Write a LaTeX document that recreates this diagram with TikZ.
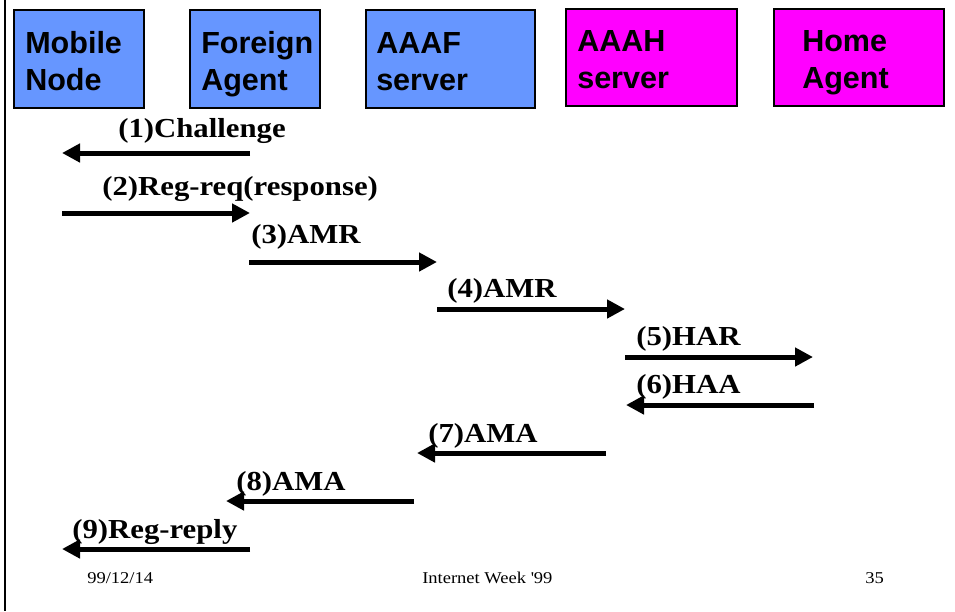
\documentclass[tikz,border=0pt]{standalone}
\usepackage{fontspec}
\usetikzlibrary{arrows.meta}
\setmainfont{Liberation Serif}
\newfontfamily\boxfont{Liberation Sans}
\newfontfamily\msgfont{Liberation Serif}[FakeStretch=1.12]
\definecolor{foreignblue}{RGB}{102,150,255}
\definecolor{homemagenta}{RGB}{255,0,255}
\tikzset{
  agentbox/.style={draw=black, line width=1.5pt, rectangle, anchor=north west,
    inner sep=0pt, minimum height=73.5pt},
  agentname/.style={anchor=base west, inner sep=0pt, align=left,
    font=\boxfont\bfseries\fontsize{22.9pt}{27.75pt}\selectfont},
  msgarrow/.style={line width=3.75pt, -{Triangle[length=13.5pt, width=13.5pt]}},
  msglabel/.style={anchor=base west, inner sep=0pt,
    font=\msgfont\bfseries\fontsize{20.6pt}{24pt}\selectfont},
  footer/.style={anchor=base west, inner sep=0pt,
    font=\msgfont\fontsize{12.4pt}{14pt}\selectfont}
}
\begin{document}
\begin{tikzpicture}[x=0.75pt, y=-0.75pt]
  \useasboundingbox (0,0) rectangle (955,611);
  % page edge on the left
  \draw[line width=1.5pt] (4.5,0) -- (4.5,611);

  % entities
  \node[agentbox, fill=foreignblue, minimum width=97.5pt]  (mn)   at (13,9)  {};
  \node[agentbox, fill=foreignblue, minimum width=97.5pt]  (fa)   at (189,9) {};
  \node[agentbox, fill=foreignblue, minimum width=126.75pt](aaaf) at (365,9) {};
  \node[agentbox, fill=homemagenta, minimum width=128.25pt, minimum height=72.75pt](aaah) at (565,8) {};
  \node[agentbox, fill=homemagenta, minimum width=127.5pt, minimum height=72.75pt] (ha)   at (773,8) {};

  % entity names (anchored at the baseline of the second line)
  \node[agentname] (mnt)   at (25,90)  {Mobile\\Node};
  \node[agentname] (fat)   at (201,90) {Foreign\\Agent};
  \node[agentname] (aaaft) at (376,90) {AAAF\\server};
  \node[agentname] (aaaht) at (577,88) {AAAH\\server};
  \node[agentname] (hat)   at (802,88) {Home\\Agent};

  % message end points
  \coordinate (m1s) at (250,153); \coordinate (m1e) at (62,153);
  \coordinate (m2s) at (62,213);  \coordinate (m2e) at (250,213);
  \coordinate (m3s) at (249,262); \coordinate (m3e) at (437,262);
  \coordinate (m4s) at (437,309); \coordinate (m4e) at (625,309);
  \coordinate (m5s) at (625,357); \coordinate (m5e) at (813,357);
  \coordinate (m6s) at (814,405); \coordinate (m6e) at (626,405);
  \coordinate (m7s) at (606,453); \coordinate (m7e) at (417,453);
  \coordinate (m8s) at (414,501); \coordinate (m8e) at (226,501);
  \coordinate (m9s) at (250,549); \coordinate (m9e) at (62,549);

  \draw[msgarrow] (m1s) -- (m1e);
  \draw[msgarrow] (m2s) -- (m2e);
  \draw[msgarrow] (m3s) -- (m3e);
  \draw[msgarrow] (m4s) -- (m4e);
  \draw[msgarrow] (m5s) -- (m5e);
  \draw[msgarrow] (m6s) -- (m6e);
  \draw[msgarrow] (m7s) -- (m7e);
  \draw[msgarrow] (m8s) -- (m8e);
  \draw[msgarrow] (m9s) -- (m9e);

  % message labels
  \node[msglabel] (l1) at (118,137) {(1)Challenge};
  \node[msglabel] (l2) at (102,195) {(2)Reg-req(response)};
  \node[msglabel] (l3) at (251,243) {(3)AMR};
  \node[msglabel] (l4) at (447,297) {(4)AMR};
  \node[msglabel] (l5) at (636,345) {(5)HAR};
  \node[msglabel] (l6) at (636,393) {(6)HAA};
  \node[msglabel] (l7) at (428,442) {(7)AMA};
  \node[msglabel] (l8) at (236,490) {(8)AMA};
  \node[msglabel] (l9) at (72,538)  {(9)Reg-reply};

  % footer line
  \node[footer] (date)  at (87,583)  {99/12/14};
  \node[footer] (event) at (422,583) {Internet Week \textquotesingle 99};
  \node[footer] (page)  at (865,583) {35};
\end{tikzpicture}
\end{document}
